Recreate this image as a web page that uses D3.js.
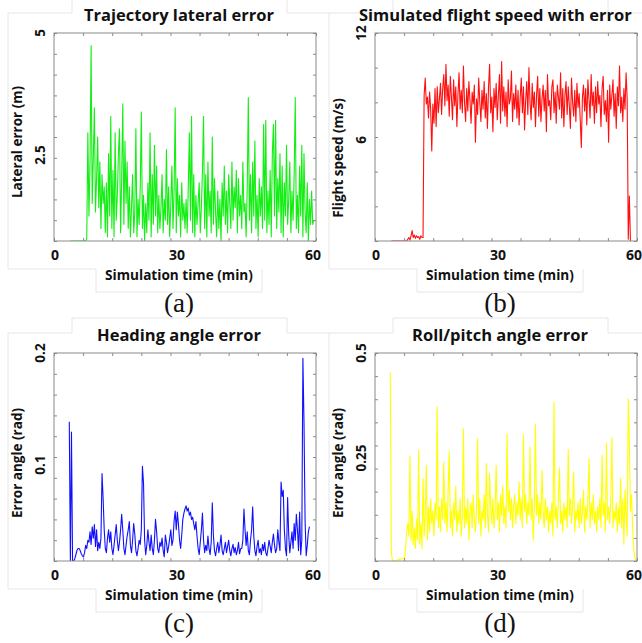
<!DOCTYPE html>
<html>
<head>
<meta charset="utf-8">
<script src="https://cdn.jsdelivr.net/npm/d3@7"></script>
<style>
  body { margin: 0; background: #fff; }
  svg { display: block; }
  .lbl { font-family: "Open Sans", Lato, sans-serif; font-weight: bold; fill: #111; }
  .letter { font-family: "Liberation Serif", "DejaVu Serif", serif; fill: #111; }
</style>
</head>
<body>
<div id="chart"></div>
<script>
//////////////////////////////////////////////////////////////
///////////////////////// Data ///////////////////////////////
//////////////////////////////////////////////////////////////

// every series is sampled every 0.25 min, starting at its own time
var timeStep = 0.25;

// (a) lateral error (m)
var lateralStart = 3.75;
var lateralError = [
  0,0,0,0,0,0,0,0,0,0,0,0,0,0,0,
  0.05,2.6,
  0.6,1.9,4.7,0.9, 2.0,3.2,0.7,1.5, 2.5,0.8,1.9,0.3, 1.6,0.9,1.3,0.2,
  1.4,0.1,2.1,0.6, 3.0,0.3,1.7,0.1, 2.6,0.5,1.1,2.1, 2.7,0.2,1.5,3.3,
  0.4,2.4,0.9,1.9, 0.3,1.3,0.1,0.8, 1.6,0.2,0.7,2.7, 0.1,1.0,0.4,1.3,
  3.1,0.3,1.1,0.0, 0.9,0.2,1.4,0.5, 2.6,0.1,1.6,0.4, 2.3,0.6,1.8,0.2,
  1.1,0.3,0.8,1.6, 0.2,1.0,0.5,2.2, 0.4,1.3,0.1,0.9, 1.8,0.3,1.2,3.2,
  0.2,1.5,0.6,1.1, 0.1,1.4,0.5,0.9, 0.3,1.0,0.2,1.3, 2.6,0.5,3.0,0.2,
  1.6,0.1,1.1,0.4, 0.9,1.4,0.2,0.8, 1.7,3.0,0.3,1.6, 0.1,1.9,0.6,1.2,
  0.2,2.5,0.4,1.5, 0.7,0.1,1.2,0.3, 1.0,0.0,1.4,0.6, 1.8,0.4,1.2,0.2,
  1.6,0.9,0.3,1.9, 0.5,1.3,0.8,1.7, 0.2,1.5,0.6,1.1, 0.3,1.9,0.7,0.9,
  0.1,1.3,3.45,0.5, 1.6,0.2,1.9,0.6, 2.4,0.3,1.1,0.1, 1.5,0.6,1.3,0.3,
  2.8,0.5,2.9,0.2, 1.2,0.4,1.7,0.1, 2.1,2.8,0.6,2.9, 0.3,1.5,0.7,2.1,
  0.2,1.8,0.1,1.4, 0.6,2.3,0.4,1.0, 1.9,0.2,1.2,0.5, 1.6,3.45,0.3,1.1,
  0.2,1.8,0.6,2.3, 0.1,2.1,0.7,0.2, 1.4,0.0,1.0,0.4, 1.2,0.4,0.5
];

// (b) flight speed (m/s)
var speedStart = 3.75;
var flightSpeed = [
  0,0,0,0,0,0,0,0,0,0,0,0,0,0,0,
  0.1,0.2,0.05,0.3, 0.6,0.2,0.35,0.15, 0.3,0.2,0.25,0.1, 0.3,0.2,
  0.2,8.4,9.4,7.9,
  8.3,7.1,8.6,7.6, 5.2,7.9,6.8,8.8, 6.6,8.9,7.4,8.2, 9.1,7.3,8.8,9.6,
  7.8,10.2,8.1,9.0, 7.2,9.5,8.3,7.0, 9.3,7.8,8.9,6.6, 8.5,9.7,7.6,8.7,
  7.4,10.1,8.0,6.9, 8.8,7.5,9.2,8.1, 6.8,8.6,7.9,9.0, 5.7,8.2,7.3,9.4,
  8.0,6.9,8.7,7.6, 9.2,7.1,8.5,6.5, 8.9,10.2,7.4,8.3, 6.3,8.8,7.7,9.1,
  7.0,8.4,9.6,6.8, 10.35,7.5,8.9,7.2, 8.6,6.6,9.3,7.9, 8.2,9.8,6.9,8.5,
  7.6,9.0,7.1,8.7, 6.7,8.3,9.4,7.4, 8.9,6.4,8.1,9.2, 7.3,10.0,8.0,7.0,
  9.1,7.7,8.6,6.6, 8.4,9.5,7.2,8.8, 6.9,8.2,9.0,7.5, 8.7,6.3,9.6,7.8,
  8.1,7.0,8.9,9.3, 7.4,8.6,6.8,9.0, 8.3,7.6,9.7,7.1, 8.8,6.6,8.4,9.2,
  7.3,8.9,7.8,6.5, 9.4,8.0,7.2,8.7, 6.9,9.1,7.7,8.5, 7.0,5.4,8.3,9.0,
  7.5,8.8,6.7,9.3, 8.2,7.1,9.6,7.8, 8.6,6.8,8.9,7.4, 9.2,7.9,8.4,6.6,
  8.8,9.5,7.3,8.1, 6.9,8.7,5.7,9.0, 7.6,8.4,9.3,7.2, 8.5,6.5,8.9,7.8,
  10.1,7.4,8.3,6.9, 8.8,7.6,9.7,8.2,
  0.1,2.6,0.0
];

// (c) heading angle error (rad)
var headingStart = 3.5;
var headingError = [
  0.134,0.0,0.124,0.0, 0.0,0.002,0.006,0.010, 0.012,0.012,0.010,0.007,
  0.005,0.004,
  0.008,0.015,0.012,0.020, 0.018,0.028,0.016,0.033, 0.022,0.035,0.014,0.030,
  0.010,0.018,0.012,0.022, 0.084,0.060,0.030,0.012, 0.008,0.022,0.030,0.018,
  0.028,0.012,0.006,0.015, 0.025,0.035,0.020,0.010, 0.018,0.030,0.045,0.030,
  0.012,0.006,0.015,0.024, 0.030,0.038,0.015,0.008, 0.020,0.036,0.026,0.010,
  0.005,0.012,0.020,0.016, 0.030,0.091,0.075,0.020, 0.006,0.015,0.030,0.018,
  0.010,0.025,0.012,0.006, 0.020,0.040,0.028,0.012, 0.008,0.018,0.014,0.022,
  0.010,0.004,0.025,0.018, 0.008,0.014,0.022,0.030, 0.015,0.020,0.038,0.048,
  0.030,0.047,0.035,0.020, 0.012,0.025,0.040,0.046, 0.050,0.053,0.048,0.051,
  0.044,0.047,0.040,0.042, 0.036,0.030,0.038,0.024, 0.012,0.006,0.018,0.030,
  0.046,0.020,0.008,0.015, 0.010,0.024,0.012,0.006, 0.018,0.056,0.025,0.010,
  0.005,0.012,0.018,0.008, 0.015,0.025,0.010,0.006, 0.012,0.018,0.008,0.014,
  0.020,0.010,0.005,0.012, 0.016,0.008,0.013,0.006, 0.010,0.018,0.007,0.012,
  0.012,0.020,0.050,0.030, 0.015,0.028,0.010,0.006, 0.020,0.030,0.052,0.024,
  0.010,0.005,0.014,0.020, 0.008,0.012,0.006,0.016, 0.010,0.018,0.008,0.005,
  0.012,0.020,0.014,0.008, 0.018,0.026,0.015,0.008, 0.012,0.030,0.018,0.010,
  0.076,0.062,0.068,0.030, 0.012,0.005,0.061,0.025, 0.008,0.018,0.028,0.012,
  0.036,0.020,0.045,0.030, 0.010,0.047,0.006,0.020, 0.195,0.134,0.039,0.005,
  0.015,0.028,0.033
];

// (d) roll/pitch angle error (rad)
var rollStart = 3.5;
var rollPitchError = [
  0.454,0.02,0.0,0.0, 0.0,0.0,0.002,0.003, 0.003,0.004,0.005,0.005,
  0.006,0.006,
  0.03,0.07,0.09,0.06, 0.252,0.05,0.12,0.04, 0.08,0.03,0.10,0.05,
  0.266,0.04,0.09,0.03, 0.198,0.06,0.11,0.23, 0.05,0.13,0.07,0.15,
  0.09,0.12,0.06,0.14, 0.10,0.37,0.08,0.13, 0.07,0.15,0.10,0.238,
  0.09,0.14,0.07,0.17, 0.264,0.08,0.12,0.06, 0.14,0.10,0.18,0.07,
  0.12,0.09,0.15,0.06, 0.11,0.318,0.08,0.13, 0.09,0.15,0.05,0.12,
  0.14,0.08,0.16,0.10, 0.07,0.13,0.294,0.09, 0.15,0.06,0.12,0.10,
  0.16,0.08,0.234,0.11, 0.07,0.21,0.13,0.09, 0.15,0.08,0.12,0.23,
  0.10,0.14,0.07,0.16, 0.11,0.18,0.09,0.13, 0.08,0.306,0.12,0.17,
  0.10,0.15,0.08,0.13, 0.16,0.09,0.14,0.11, 0.19,0.10,0.15,0.08,
  0.304,0.12,0.16,0.09, 0.14,0.11,0.274,0.10, 0.15,0.05,0.13,0.328,
  0.11,0.16,0.09,0.14, 0.10,0.218,0.12,0.08, 0.15,0.10,0.13,0.07,
  0.12,0.09,0.14,0.06, 0.382,0.10,0.13,0.08, 0.15,0.224,0.09,0.12,
  0.07,0.14,0.10,0.13, 0.08,0.268,0.11,0.15, 0.09,0.13,0.214,0.07,
  0.12,0.10,0.14,0.08, 0.15,0.09,0.12,0.17, 0.07,0.13,0.10,0.15,
  0.246,0.08,0.14,0.10, 0.16,0.09,0.12,0.07, 0.13,0.10,0.15,0.08,
  0.254,0.11,0.14,0.07, 0.284,0.10,0.13,0.09, 0.15,0.296,0.08,0.12,
  0.10,0.14,0.07,0.13, 0.09,0.20,0.08,0.15, 0.04,0.171,0.11,0.06,
  0.39,0.29,0.12,0.16, 0.08,0.03,0.01,0.0
];

// labels
var titles = ["Trajectory lateral error", "Simulated flight speed with error",
              "Heading angle error", "Roll/pitch angle error"];
var yTitles = ["Lateral error (m)", "Flight speed (m/s)", "Error angle (rad)", "Error angle (rad)"];
var yMaxes = [5, 12, 0.2, 0.5];
var yTickCounts = [10, 6, 10, 9];
var yTickLabels = [["5", "2.5"], ["12", "6"], ["0.2", "0.1"], ["0.5", "0.25"]];
var xTickValues = [0, 30, 60];
var xTitle = "Simulation time (min)";
var letters = ["(a)", "(b)", "(c)", "(d)"];
var colors = ["#14ee14", "#ff1010", "#1010ff", "#ffff00"];

//////////////////////////////////////////////////////////////
///////////////////// General settings ///////////////////////
//////////////////////////////////////////////////////////////

var width = 262, height = 208;
var svgW = 642, svgH = 643;

var svg = d3.select("#chart").append("svg")
    .attr("width", svgW)
    .attr("height", svgH);

var series = [
  {start: lateralStart, values: lateralError},
  {start: speedStart, values: flightSpeed},
  {start: headingStart, values: headingError},
  {start: rollStart, values: rollPitchError}
];

// label nudges as placed in the source figure
var yLabelShift = [[0, 18], [0, 3], [0, 8], [0, 1]];
var yTitleShift = [5, 21, 6, 6];
var xLabelShift = [1, -8, -3];

var xScale = d3.scaleLinear().domain([0, 60]).range([0, width]);

series.forEach(function(s, i) {
  var col = i % 2, row = Math.floor(i / 2);
  var left = 54 + col * 321, top = 33 + row * 320;
  var cx = left + width / 2;

  var yScale = d3.scaleLinear().domain([0, yMaxes[i]]).range([height, 0]);

  // faint frame left over from the pasted sub-figures
  var fx = left - 46, fy = top - 20;
  var d = "M" + (fx + 64) + "," + fy + "H" + fx + "V" + (fy + 256) + "H" + (fx + 88)
        + "V" + (fy + 279) + "H" + (fx + 254) + "V" + (fy + 256)
        + "M" + (fx + 279) + "," + fy + "H" + (fx + 322);
  if (row === 1) {
    d += "M" + (fx + 64) + "," + fy + "V" + (fy - 15) + "H" + (fx + 279) + "V" + fy;
  } else {
    d += "M" + (fx + 64) + "," + fy + "V0M" + (fx + 279) + "," + fy + "V0";
  }
  svg.append("path")
      .attr("fill", "none")
      .attr("stroke", "#e6e6e6")
      .attr("stroke-width", 1)
      .attr("d", d);

  var g = svg.append("g")
      .attr("transform", "translate(" + left + "," + top + ")");

  // clip
  g.append("defs").append("clipPath")
      .attr("id", "clip" + i)
    .append("rect")
      .attr("width", width)
      .attr("height", height);

  // data line
  var pts = s.values.map(function(v, k) { return [s.start + k * timeStep, v]; });
  var line = d3.line()
      .x(function(d) { return xScale(d[0]); })
      .y(function(d) { return yScale(d[1]); });

  g.append("path")
      .datum(pts)
      .attr("d", line)
      .attr("fill", "none")
      .attr("stroke", colors[i])
      .attr("stroke-width", 1.1)
      .attr("stroke-linejoin", "round")
      .attr("clip-path", "url(#clip" + i + ")");

  // inward ticks on all four sides
  var xt = d3.range(0, 10).map(function(k) { return k * 60 / 9; });
  var yt = d3.range(0, yTickCounts[i] + 1).map(function(k) { return k * yMaxes[i] / yTickCounts[i]; });

  g.append("g").attr("transform", "translate(0," + height + ")")
      .call(d3.axisBottom(xScale).tickValues(xt).tickSize(-3).tickFormat(""));
  g.append("g")
      .call(d3.axisTop(xScale).tickValues(xt).tickSize(-3).tickFormat(""));
  g.append("g")
      .call(d3.axisLeft(yScale).tickValues(yt).tickSize(-3).tickFormat(""));
  g.append("g").attr("transform", "translate(" + width + ",0)")
      .call(d3.axisRight(yScale).tickValues(yt).tickSize(-3).tickFormat(""));

  g.selectAll(".domain").remove();
  g.selectAll(".tick line").attr("stroke", "#8a8a8a");

  g.append("rect")
      .attr("width", width)
      .attr("height", height)
      .attr("fill", "none")
      .attr("stroke", "#8a8a8a")
      .attr("stroke-width", 1);

  // x tick labels
  g.selectAll(".xlab")
      .data(xTickValues).enter()
      .append("text")
      .attr("class", "lbl")
      .attr("x", function(d, k) { return xScale(d) + xLabelShift[k]; })
      .attr("y", height + 19)
      .attr("text-anchor", "middle")
      .style("font-size", "14px")
      .text(function(d) { return d; });

  // y tick labels (rotated)
  var yVals = [yMaxes[i], yMaxes[i] / 2];
  g.selectAll(".ylab")
      .data(yVals).enter()
      .append("text")
      .attr("class", "lbl")
      .attr("transform", function(d, k) {
        return "translate(-9," + (yScale(d) + yLabelShift[i][k]) + ") rotate(-90)";
      })
      .attr("text-anchor", "middle")
      .style("font-size", "13.5px")
      .text(function(d, k) { return yTickLabels[i][k]; });

  // titles
  svg.append("text")
      .attr("class", "lbl")
      .attr("x", i === 1 ? 359 : cx - 6)
      .attr("y", top - 12)
      .attr("text-anchor", i === 1 ? "start" : "middle")
      .style("font-size", "16.5px")
      .text(titles[i]);

  svg.append("text")
      .attr("class", "lbl")
      .attr("transform", "translate(" + (left - 32) + "," + (top + height / 2 + yTitleShift[i]) + ") rotate(-90)")
      .attr("text-anchor", "middle")
      .style("font-size", "13.5px")
      .text(yTitles[i]);

  svg.append("text")
      .attr("class", "lbl")
      .attr("x", cx - 6)
      .attr("y", top + height + 39)
      .attr("text-anchor", "middle")
      .style("font-size", "13.6px")
      .text(xTitle);

  svg.append("text")
      .attr("class", "letter")
      .attr("x", cx - 6)
      .attr("y", top + height + 71)
      .attr("text-anchor", "middle")
      .style("font-size", "27px")
      .text(letters[i]);
});
</script>
</body>
</html>
